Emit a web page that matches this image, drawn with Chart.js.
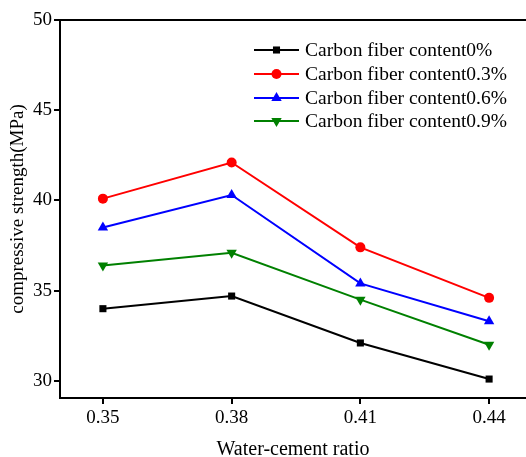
<!DOCTYPE html>
<html>
<head>
<meta charset="utf-8">
<script src="https://cdn.jsdelivr.net/npm/chart.js@4"></script>
<style>
html,body{margin:0;padding:0;background:#fff;}
#wrap{width:526px;height:457px;position:relative;}
</style>
</head>
<body>
<div id="wrap"><canvas id="c" width="526" height="457"></canvas></div>
<script>
const categories = [0.35, 0.38, 0.41, 0.44];
const xTickLabels = ['0.35', '0.38', '0.41', '0.44'];
const yTickValues = [30, 35, 40, 45, 50];
const seriesNames = ['Carbon fiber content0%', 'Carbon fiber content0.3%', 'Carbon fiber content0.6%', 'Carbon fiber content0.9%'];
const fiber0 = [34.0, 34.7, 32.1, 30.1];
const fiber03 = [40.1, 42.1, 37.4, 34.6];
const fiber06 = [38.5, 40.3, 35.4, 33.3];
const fiber09 = [36.4, 37.1, 34.5, 32.0];

const FONT = "'Liberation Serif', 'Times New Roman', serif";
const styles = [
  {color:'#000000', pointStyle:'rect', radius:5, rotation:0},
  {color:'#ff0000', pointStyle:'circle', radius:5, rotation:0},
  {color:'#0000ff', pointStyle:'triangle', radius:6, rotation:0},
  {color:'#008000', pointStyle:'triangle', radius:6, rotation:180}
];
const seriesData = [fiber0, fiber03, fiber06, fiber09];

const datasets = seriesData.map((vals, i) => ({
  label: seriesNames[i],
  data: categories.map((x, j) => ({x: x, y: vals[j]})),
  borderColor: styles[i].color,
  backgroundColor: styles[i].color,
  pointStyle: styles[i].pointStyle,
  pointRadius: styles[i].radius,
  pointRotation: styles[i].rotation,
  pointBorderWidth: 0,
  borderWidth: 2,
  tension: 0
}));

const framePlugin = {
  id: 'frame',
  afterDraw(chart) {
    const ctx = chart.ctx;
    const a = chart.chartArea;
    ctx.save();
    ctx.strokeStyle = '#000';
    ctx.lineWidth = 2;
    ctx.beginPath();
    ctx.moveTo(a.left - 1, a.top);
    ctx.lineTo(a.right, a.top);
    ctx.stroke();
    // legend
    const lx0 = 254, lx1 = 299, tx = 305;
    const rows = [50, 74, 98, 121];
    chart.data.datasets.forEach((ds, i) => {
      const y = rows[i];
      ctx.strokeStyle = ds.borderColor;
      ctx.lineWidth = 2;
      ctx.beginPath();
      ctx.moveTo(lx0, y);
      ctx.lineTo(lx1, y);
      ctx.stroke();
      ctx.fillStyle = ds.borderColor;
      Chart.helpers.drawPoint(ctx, {pointStyle: ds.pointStyle, radius: ds.pointRadius, rotation: ds.pointRotation, borderWidth: 0}, (lx0 + lx1) / 2, y);
      ctx.fillStyle = '#000';
      ctx.font = '19.5px ' + FONT;
      ctx.textAlign = 'left';
      ctx.textBaseline = 'middle';
      ctx.fillText(ds.label, tx, y + 1);
    });
    ctx.restore();
  }
};

new Chart(document.getElementById('c'), {
  type: 'line',
  data: { datasets: datasets },
  options: {
    responsive: false,
    animation: false,
    layout: { autoPadding: false, padding: { top: 20, right: 0, left: 0, bottom: 0 } },
    plugins: {
      legend: { display: false },
      tooltip: { enabled: false }
    },
    scales: {
      x: {
        type: 'linear',
        min: 0.34,
        max: 0.4486,
        afterBuildTicks(scale) { scale.ticks = categories.map(v => ({value: v})); },
        afterFit(scale) { scale.height = 59; scale.paddingLeft = 0; scale.paddingRight = 0; },
        ticks: {
          color: '#000',
          font: { family: FONT, size: 19 },
          padding: 3,
          maxRotation: 0,
          autoSkip: false,
          callback: (v) => xTickLabels[categories.indexOf(v)] ?? ''
        },
        grid: { drawOnChartArea: false, drawTicks: true, tickLength: 6, color: '#000', lineWidth: 2 },
        border: { color: '#000', width: 2 },
        title: { display: true, text: 'Water-cement ratio', color: '#000', font: { family: FONT, size: 20, lineHeight: 1 }, padding: { top: 0, bottom: -3 } }
      },
      y: {
        type: 'linear',
        min: 29.05,
        max: 50,
        afterBuildTicks(scale) { scale.ticks = yTickValues.map(v => ({value: v})); },
        afterFit(scale) { scale.width = 60; scale.paddingTop = 0; scale.paddingBottom = 0; },
        ticks: {
          color: '#000',
          font: { family: FONT, size: 19 },
          padding: 2,
          callback: (v) => String(v)
        },
        grid: { drawOnChartArea: false, drawTicks: true, tickLength: 6, color: '#000', lineWidth: 2 },
        border: { color: '#000', width: 2 },
        title: { display: true, text: 'compressive strength(MPa)', color: '#000', font: { family: FONT, size: 19 }, padding: { top: 7, bottom: 0 } }
      }
    }
  },
  plugins: [framePlugin]
});
</script>
</body>
</html>
